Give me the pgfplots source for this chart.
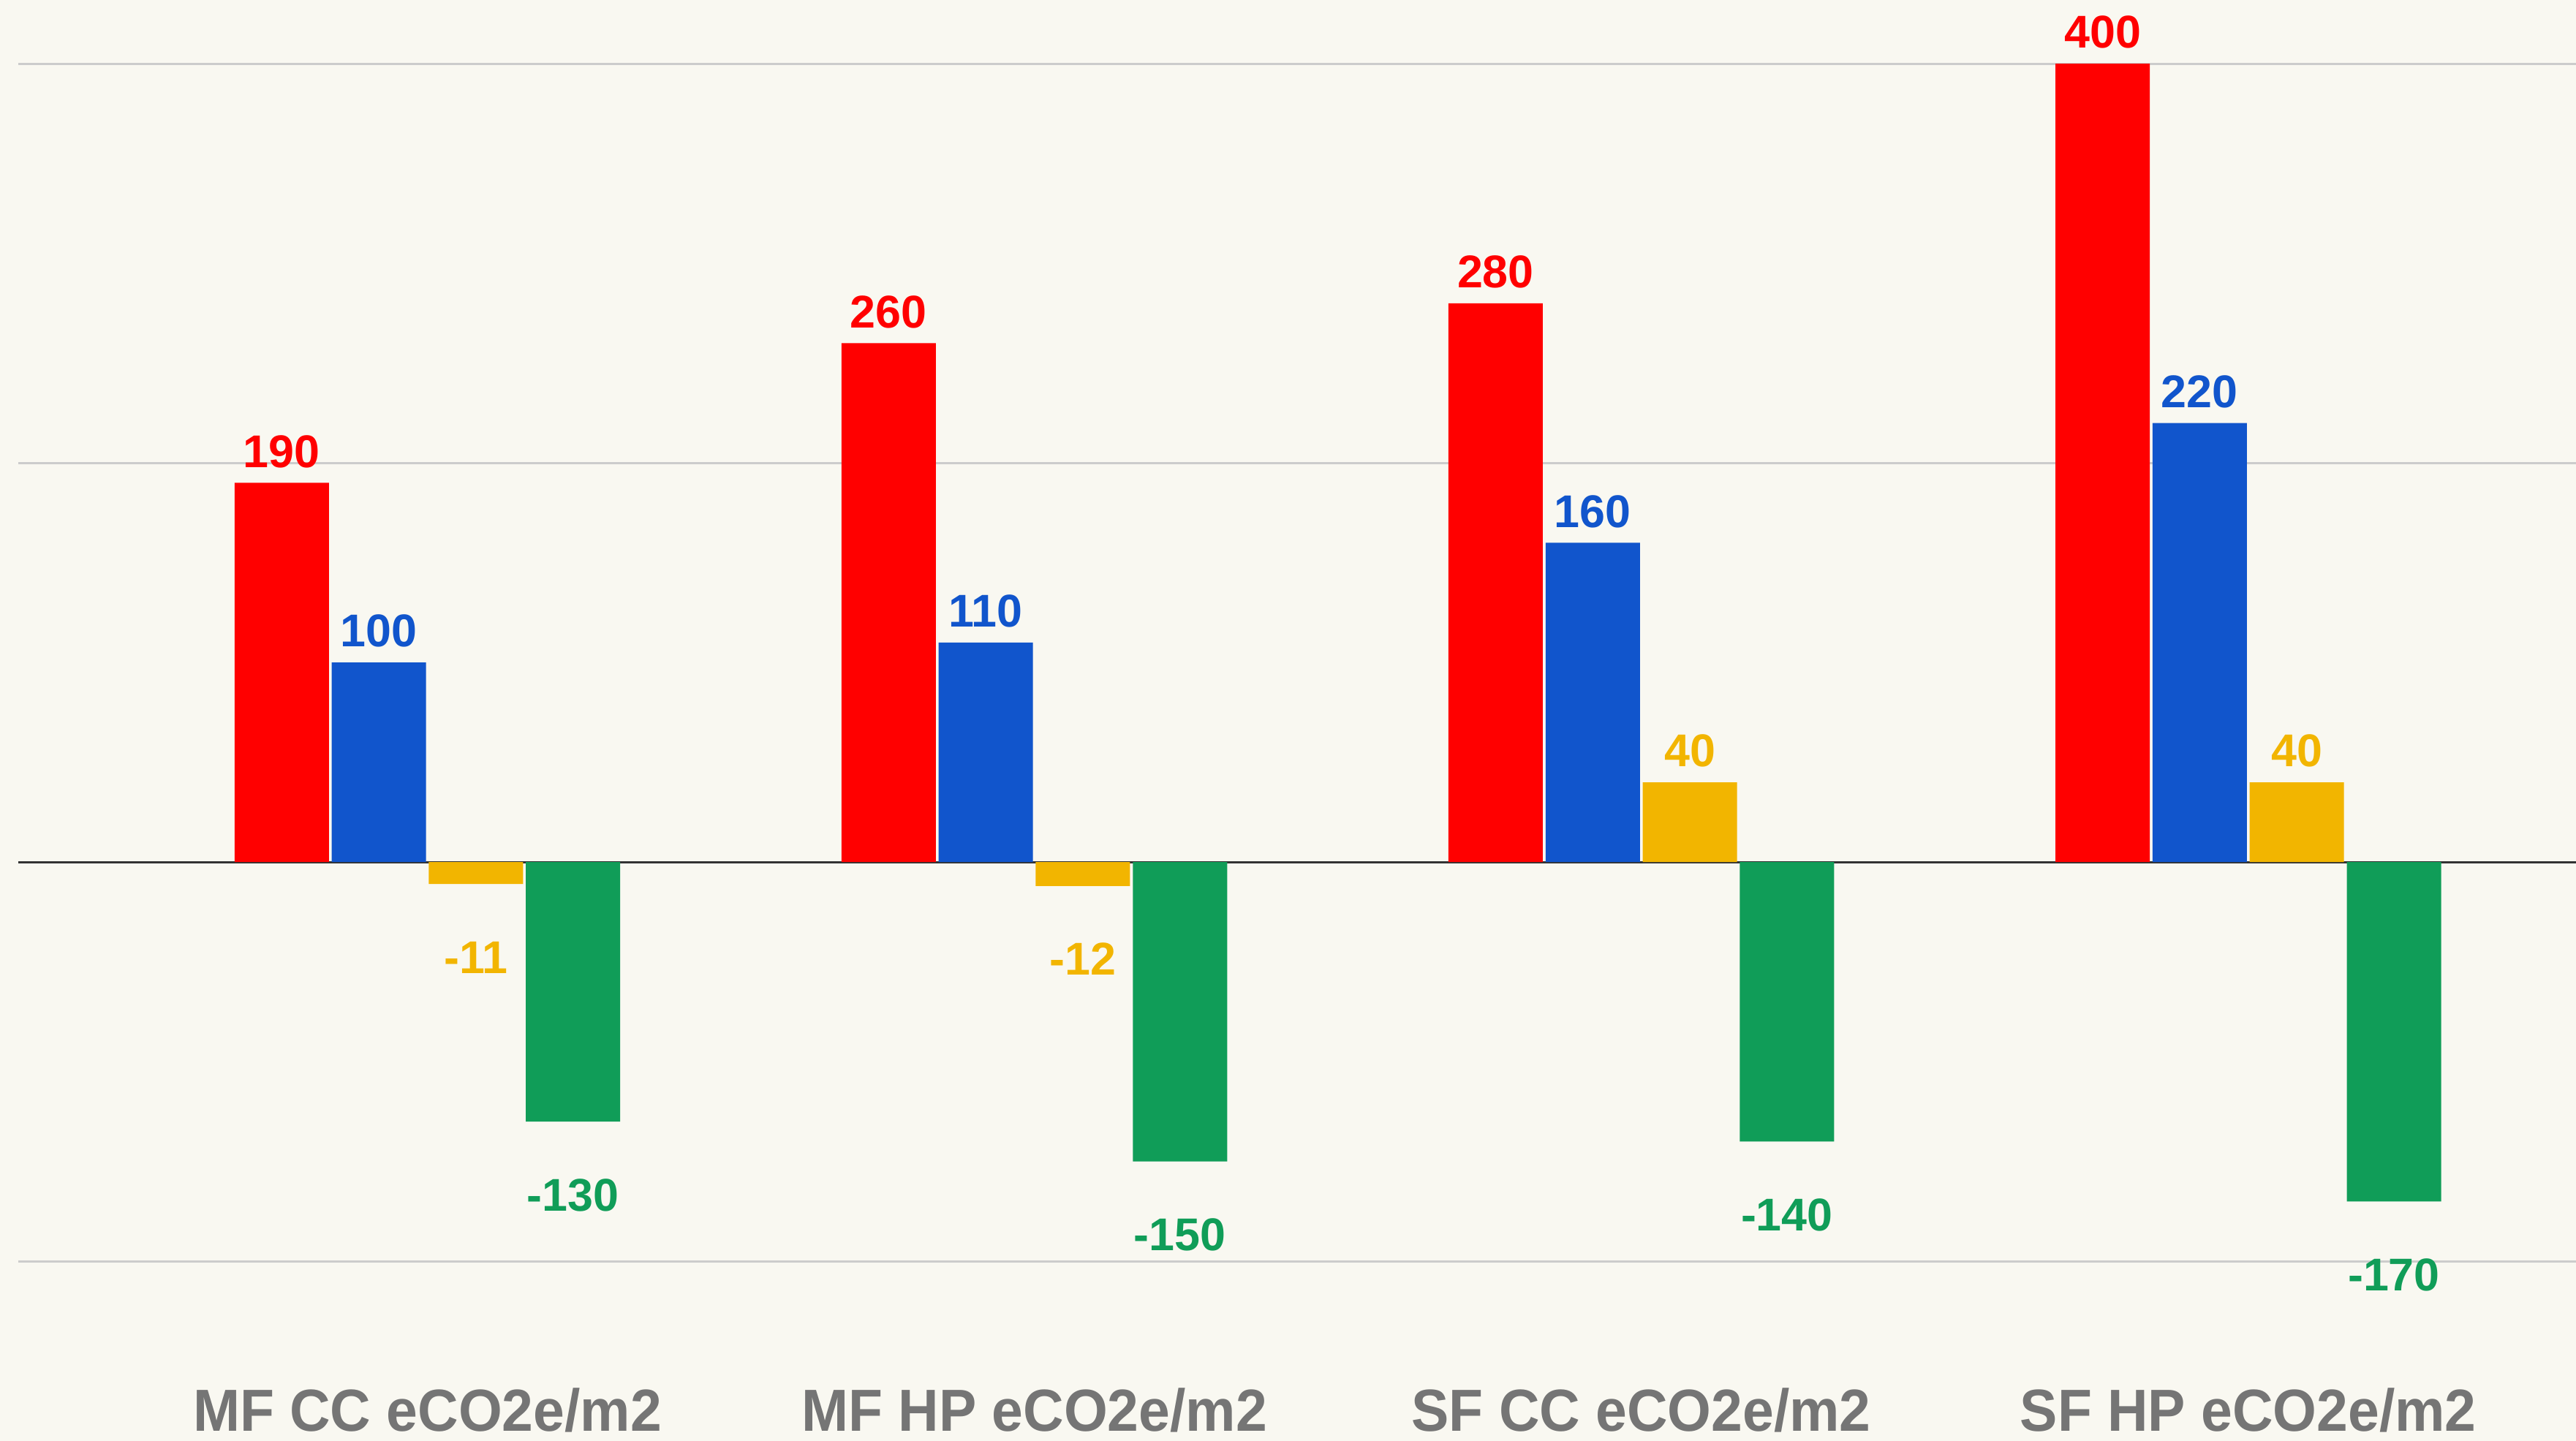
\documentclass[border=0pt]{standalone}
\usepackage{fontspec}
\setmainfont{Liberation Sans}
\newfontfamily\catfont{Liberation Sans}[FakeStretch=0.947]
\usepackage{pgfplots}
\pgfplotsset{compat=1.18}
\usetikzlibrary{backgrounds}

\definecolor{bgc}{HTML}{F9F8F1}
\definecolor{cred}{HTML}{FF0000}
\definecolor{cblue}{HTML}{1155CC}
\definecolor{cyellow}{HTML}{F2B500}
\definecolor{cgreen}{HTML}{109D58}
\definecolor{gridc}{HTML}{CCCCCC}
\definecolor{zeroc}{HTML}{333333}
\definecolor{labc}{HTML}{757575}

\begin{document}
\begin{tikzpicture}
\begin{axis}[
  scale only axis, width=874.5pt, height=409.5pt,
  xmin=-0.674, xmax=3.540, ymin=-200, ymax=400,
  axis line style={draw=none},
  ytick={-200,200,400}, yticklabels={},
  ymajorgrids, grid style={gridc, line width=0.75pt},
  extra y ticks={0}, extra y tick labels={},
  extra y tick style={grid style={zeroc, line width=0.8pt}},
  major tick length=0pt,
  xtick={0,1,2,3},
  xticklabels={MF CC eCO2e/m2, MF HP eCO2e/m2, SF CC eCO2e/m2, SF HP eCO2e/m2},
  xticklabel style={anchor=base, yshift=-58pt,
    font=\catfont\fontsize{20.3}{24}\selectfont\bfseries, text=labc},
  clip=false,
  ybar, bar width=0.1554,
  point meta=explicit symbolic,
  nodes near coords,
  visualization depends on={y \as \rawy},
  every node near coord/.append style={anchor=base,
    font=\fontsize{15.7}{18}\selectfont\bfseries,
    yshift={\rawy<0 ? -30.5 : 5.3}},
]
\coordinate (ll) at (rel axis cs:0,0);
\coordinate (ur) at (rel axis cs:1,1);
% embodied carbon components per floor area
\addplot[fill=cred, draw=none, bar shift=-0.24,
  every node near coord/.append style={text=cred}]
  coordinates {(0,190) [190] (1,260) [260] (2,280) [280] (3,400) [400]};
\addplot[fill=cblue, draw=none, bar shift=-0.08,
  every node near coord/.append style={text=cblue}]
  coordinates {(0,100) [100] (1,110) [110] (2,160) [160] (3,220) [220]};
\addplot[fill=cyellow, draw=none, bar shift=0.08,
  every node near coord/.append style={text=cyellow}]
  coordinates {(0,-11) [-11] (1,-12) [-12] (2,40) [40] (3,40) [40]};
\addplot[fill=cgreen, draw=none, bar shift=0.24,
  every node near coord/.append style={text=cgreen}]
  coordinates {(0,-130) [-130] (1,-150) [-150] (2,-140) [-140] (3,-170) [-170]};
\end{axis}
\begin{scope}[on background layer]
  \fill[bgc] ([shift={(-6.25pt,-61.4pt)}]ll) rectangle ([shift={(0pt,21.8pt)}]ur);
\end{scope}
\pgfresetboundingbox
\path[use as bounding box] ([shift={(-6.25pt,-61.4pt)}]ll) rectangle ([shift={(0pt,21.8pt)}]ur);
\end{tikzpicture}
\end{document}
